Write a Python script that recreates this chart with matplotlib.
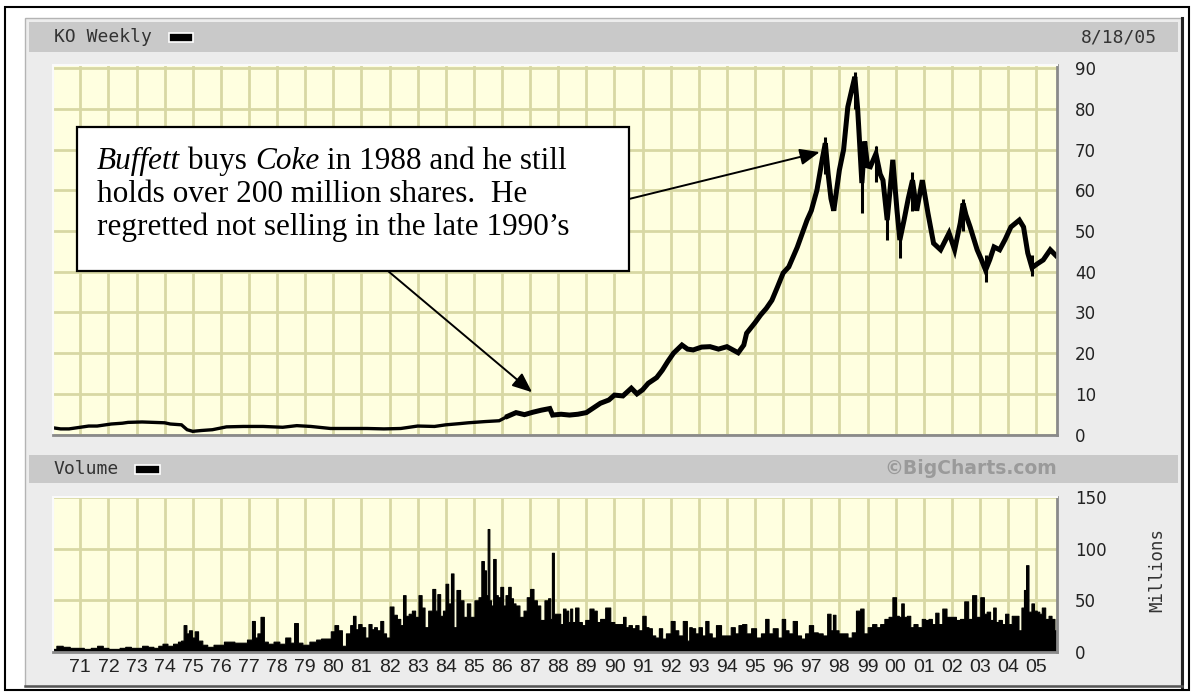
"""KO weekly price / volume chart (BigCharts style) with Buffett annotation"""
import matplotlib
matplotlib.use("Agg")
import matplotlib.pyplot as plt
import matplotlib.transforms as mtransforms
from matplotlib.patches import Rectangle
import numpy as np

W, H = 1193, 694

# --- data ----------------------------------------------------------------
price_years = [
    1970.05, 1970.3, 1970.6, 1970.9, 1971.3, 1971.6, 1972.1, 1972.5, 1972.7, 1973.2,
    1973.6, 1974.0, 1974.2, 1974.6, 1974.8, 1975.0, 1975.3, 1975.7, 1976.2, 1976.8,
    1977.5, 1978.2, 1978.7, 1979.2, 1979.9, 1980.5, 1981.2, 1981.8, 1982.4, 1983.0,
    1983.6, 1984.0, 1984.5, 1984.8, 1985.4, 1985.9, 1986.2, 1986.5, 1986.8, 1987.1,
    1987.4, 1987.7, 1987.8, 1988.1, 1988.4, 1988.7, 1989.0, 1989.5, 1989.8, 1990.0,
    1990.3, 1990.6, 1990.8, 1991.0, 1991.2, 1991.5, 1991.7, 1991.9, 1992.1, 1992.4,
    1992.6, 1992.8, 1993.1, 1993.4, 1993.7, 1994.0, 1994.4, 1994.6, 1994.7, 1995.0,
    1995.2, 1995.4, 1995.6, 1995.8, 1996.0, 1996.2, 1996.5, 1996.85, 1997.0, 1997.2,
    1997.4, 1997.5, 1997.6, 1997.7, 1997.8, 1997.9, 1998.0, 1998.15, 1998.3, 1998.45,
    1998.55, 1998.65, 1998.7, 1998.8, 1998.9, 1999.0, 1999.1, 1999.3, 1999.45, 1999.55,
    1999.7, 1999.8, 1999.9, 2000.05, 2000.15, 2000.3, 2000.45, 2000.6, 2000.75, 2000.95,
    2001.15, 2001.35, 2001.6, 2001.9, 2002.1, 2002.3, 2002.4, 2002.5, 2002.65, 2002.9,
    2003.05, 2003.2, 2003.35, 2003.5, 2003.7, 2003.9, 2004.1, 2004.4, 2004.55, 2004.7,
    2004.85, 2005.05, 2005.25, 2005.5, 2005.7,
]
price_close = [
    1.65, 1.4, 1.4, 1.7, 2.1, 2.1, 2.6, 2.8, 3.0, 3.1,
    3.0, 2.9, 2.6, 2.4, 1.2, 0.8, 1.0, 1.2, 1.9, 2.0,
    2.0, 1.8, 2.2, 2.0, 1.5, 1.5, 1.5, 1.4, 1.5, 2.1,
    2.0, 2.4, 2.7, 2.9, 3.2, 3.4, 4.5, 5.4, 4.9, 5.5,
    6.0, 6.4, 4.8, 5.0, 4.8, 5.0, 5.4, 7.7, 8.5, 9.7,
    9.5, 11.4, 10.0, 11.0, 12.6, 14.0, 15.8, 18.0, 20.0, 22.0,
    21.0, 20.8, 21.5, 21.6, 21.0, 21.6, 20.1, 22.0, 24.9, 27.5,
    29.4, 31.0, 33.0, 36.3, 39.7, 41.2, 46.0, 52.7, 55.0, 60.0,
    68.0, 71.6, 64.0, 58.0, 55.0, 60.0, 65.0, 70.0, 80.5, 85.0,
    87.9, 80.0, 74.0, 61.8, 72.0, 66.0, 65.8, 69.0, 64.0, 62.5,
    52.7, 60.0, 67.5, 55.0, 47.8, 52.7, 58.0, 62.5, 55.0, 62.5,
    54.4, 47.0, 45.4, 49.5, 45.4, 52.0, 56.8, 54.0, 51.0, 45.4,
    43.0, 40.4, 43.0, 46.1, 45.4, 48.0, 51.0, 52.7, 51.0, 44.6,
    41.0, 42.0, 42.9, 45.4, 44.0,
]
# a few weekly high/low bars that stick out of the band
wick_years = [1997.5, 1998.55, 1998.8, 1999.3, 1999.7, 2000.15, 2000.6, 2002.4, 2003.2, 2004.85]
wick_low = [64.0, 80.0, 54.4, 62.0, 47.8, 43.4, 55.0, 50.0, 37.5, 39.0]
wick_high = [73.0, 89.0, 66.0, 71.0, 58.0, 52.0, 64.5, 58.0, 44.0, 44.0]

vol_years = [
    1970.05, 1970.25, 1970.5, 1970.75, 1971.0, 1971.25, 1971.5, 1971.7, 1971.9, 1972.1,
    1972.3, 1972.5, 1972.7, 1972.9, 1973.1, 1973.3, 1973.5, 1973.7, 1973.85, 1974.0,
    1974.2, 1974.4, 1974.55, 1974.62, 1974.73, 1974.82, 1974.91, 1975.03, 1975.11, 1975.27,
    1975.41, 1975.62, 1975.86, 1976.0, 1976.22, 1976.39, 1976.57, 1976.81, 1977.05, 1977.16,
    1977.26, 1977.34, 1977.48, 1977.58, 1977.76, 1977.99, 1978.17, 1978.41, 1978.53, 1978.68,
    1978.8, 1979.0, 1979.3, 1979.48, 1979.65, 1979.83, 1979.99, 1980.09, 1980.25, 1980.36,
    1980.54, 1980.66, 1980.74, 1980.84, 1980.93, 1981.08, 1981.19, 1981.31, 1981.41, 1981.49,
    1981.61, 1981.73, 1981.82, 1981.93, 1982.08, 1982.2, 1982.32, 1982.44, 1982.52, 1982.62,
    1982.74, 1982.85, 1982.97, 1983.09, 1983.19, 1983.3, 1983.45, 1983.59, 1983.66, 1983.74,
    1983.86, 1983.94, 1984.04, 1984.13, 1984.24, 1984.31, 1984.45, 1984.57, 1984.69, 1984.81,
    1984.93, 1985.11, 1985.22, 1985.31, 1985.4, 1985.46, 1985.52, 1985.58, 1985.64, 1985.73,
    1985.82, 1985.88, 1986.0, 1986.08, 1986.17, 1986.27, 1986.35, 1986.43, 1986.53, 1986.71,
    1986.82, 1986.94, 1987.06, 1987.18, 1987.3, 1987.42, 1987.6, 1987.68, 1987.75, 1987.8,
    1987.89, 1988.01, 1988.13, 1988.21, 1988.31, 1988.4, 1988.45, 1988.54, 1988.66, 1988.78,
    1988.9, 1989.02, 1989.2, 1989.31, 1989.43, 1989.55, 1989.79, 1989.91, 1990.08, 1990.26,
    1990.35, 1990.44, 1990.56, 1990.68, 1990.8, 1990.91, 1991.07, 1991.15, 1991.27, 1991.39,
    1991.51, 1991.65, 1991.74, 1991.92, 1992.08, 1992.2, 1992.34, 1992.52, 1992.63, 1992.69,
    1992.81, 1992.93, 1993.05, 1993.17, 1993.29, 1993.4, 1993.52, 1993.7, 1993.88, 1994.06,
    1994.21, 1994.35, 1994.47, 1994.61, 1994.77, 1994.95, 1995.12, 1995.3, 1995.42, 1995.54,
    1995.72, 1995.89, 1996.01, 1996.13, 1996.25, 1996.43, 1996.55, 1996.72, 1996.84, 1996.99,
    1997.14, 1997.32, 1997.49, 1997.64, 1997.73, 1997.81, 1997.91, 1998.03, 1998.2, 1998.38,
    1998.5, 1998.68, 1998.8, 1998.92, 1999.09, 1999.24, 1999.39, 1999.51, 1999.69, 1999.81,
    1999.96, 2000.07, 2000.16, 2000.24, 2000.34, 2000.46, 2000.58, 2000.69, 2000.87, 2000.99,
    2001.11, 2001.23, 2001.35, 2001.47, 2001.58, 2001.74, 2001.88, 2002.06, 2002.23, 2002.35,
    2002.53, 2002.63, 2002.81, 2002.92, 2003.1, 2003.18, 2003.3, 2003.42, 2003.52, 2003.6,
    2003.72, 2003.84, 2003.95, 2004.07, 2004.19, 2004.31, 2004.43, 2004.52, 2004.61, 2004.67,
    2004.78, 2004.88, 2004.96, 2005.08, 2005.14, 2005.26, 2005.38, 2005.5, 2005.59, 2005.71,
]
vol_millions = [
    3, 6, 5, 4, 4, 3, 4, 6, 4, 3,
    3, 4, 5, 4, 4, 6, 5, 4, 6, 8,
    6, 8, 10, 11, 26, 18, 21, 14, 20, 11,
    7, 5, 7, 7, 10, 10, 9, 9, 12, 30,
    14, 18, 34, 10, 8, 10, 8, 14, 9, 28,
    9, 7, 10, 12, 13, 13, 20, 26, 21, 6,
    18, 26, 35, 22, 27, 24, 14, 27, 22, 24,
    21, 30, 18, 14, 44, 36, 32, 26, 55, 35,
    37, 40, 34, 55, 43, 24, 40, 61, 40, 56,
    35, 40, 66, 47, 76, 24, 60, 50, 34, 47,
    34, 50, 53, 88, 79, 55, 119, 50, 45, 90,
    55, 53, 63, 45, 55, 63, 52, 47, 45, 34,
    40, 53, 61, 50, 45, 31, 50, 52, 32, 96,
    37, 37, 27, 42, 40, 29, 42, 29, 43, 29,
    26, 31, 42, 40, 29, 32, 43, 29, 27, 27,
    34, 24, 26, 23, 26, 21, 35, 24, 23, 16,
    14, 23, 13, 18, 30, 21, 16, 30, 11, 24,
    23, 18, 24, 16, 30, 18, 14, 26, 16, 16,
    24, 18, 26, 27, 18, 23, 14, 18, 32, 18,
    23, 14, 32, 21, 18, 30, 16, 13, 18, 26,
    19, 18, 16, 37, 21, 36, 21, 18, 18, 14,
    19, 40, 42, 18, 24, 27, 24, 27, 32, 34,
    53, 35, 34, 47, 34, 35, 24, 27, 24, 32,
    31, 32, 27, 38, 27, 42, 34, 34, 31, 32,
    49, 32, 55, 34, 53, 37, 39, 31, 43, 29,
    31, 27, 37, 27, 35, 35, 21, 43, 60, 84,
    39, 47, 40, 39, 37, 43, 32, 35, 32, 21,
]

year_ticks = list(range(1971, 2006))
year_labels = [f"{y % 100:02d}" for y in year_ticks]
price_ticks = list(range(0, 100, 10))
vol_ticks = [0, 50, 100, 150]

# --- style -----------------------------------------------------------------
PLOT_BG = "#ffffe0"
GRID = "#d8d8a4"
PANEL = "#ececec"
BAR = "#c9c9c9"
MONO = "DejaVu Sans Mono"

fig = plt.figure(figsize=(W / 100, H / 100), dpi=100)
fig.patch.set_facecolor("white")

# pixel coords (origin top-left) -> figure
px = mtransforms.Affine2D().scale(1 / W, -1 / H).translate(0, 1) + fig.transFigure


def rect_px(x0, y0, x1, y1, **kw):
    r = Rectangle((x0, y1), x1 - x0, y0 - y1, transform=px, **kw)
    fig.add_artist(r)
    return r


def ax_px(x0, y0, x1, y1):
    return fig.add_axes([x0 / W, 1 - y1 / H, (x1 - x0) / W, (y1 - y0) / H])


# frame, panel, header bars
rect_px(5, 7, 1189, 690, facecolor="none", edgecolor="black", lw=1.5, zorder=-6)
rect_px(25, 18, 1181, 686, facecolor=PANEL, edgecolor="#b4b4b4", lw=1, zorder=-5)
fig.add_artist(plt.Line2D([1181.5, 1181.5], [18, 687], transform=px, color="#222222", lw=2.2, zorder=-4))
fig.add_artist(plt.Line2D([25, 1182], [686.5, 686.5], transform=px, color="#555555", lw=1.8, zorder=-4))
rect_px(29, 22, 1178, 52, facecolor=BAR, edgecolor="none", zorder=-4)
rect_px(29, 455, 1178, 483, facecolor=BAR, edgecolor="none", zorder=-4)

fig.text(54, 37, "KO Weekly", transform=px, family=MONO, fontsize=13, color="#333333", va="center")
rect_px(169, 33, 193, 42, facecolor="black", edgecolor="white", lw=1.2, zorder=-3)
fig.text(1157, 37, "8/18/05", transform=px, family=MONO, fontsize=13, color="#333333",
         va="center", ha="right")
fig.text(54, 469, "Volume", transform=px, family=MONO, fontsize=13, color="#333333", va="center")
rect_px(135, 465, 160, 474, facecolor="black", edgecolor="white", lw=1.2, zorder=-3)
fig.text(1057, 469, "©BigCharts.com", transform=px, family="DejaVu Sans", fontsize=13.5,
         fontweight="bold", color="#9a9a9a", va="center", ha="right")
fig.text(1157, 570, "Millions", transform=px, family=MONO, fontsize=12.5, color="#333333",
         va="center", ha="center", rotation=90)


def style_axes(ax):
    ax.set_facecolor(PLOT_BG)
    ax.set_axisbelow(True)
    ax.grid(True, color=GRID, lw=2)
    ax.set_xlim(1970.03, 2005.74)
    ax.set_xticks(year_ticks)
    ax.yaxis.tick_right()
    ax.tick_params(length=0, labelsize=12, colors="#222222", pad=13)
    for s in ("top", "left"):
        ax.spines[s].set_color("#fafafa")
        ax.spines[s].set_linewidth(1.5)
    for s in ("bottom", "right"):
        ax.spines[s].set_color("#8a8a8a")
        ax.spines[s].set_linewidth(2)


# price panel
ax = ax_px(53, 65, 1057, 435)
style_axes(ax)
ax.set_ylim(-0.1, 90.8)
ax.set_yticks(price_ticks)
ax.set_xticklabels([])
yrs = np.array(price_years)
cls = np.array(price_close)
early = yrs <= 1986.2
ax.plot(yrs[early], cls[early], color="black", lw=2.4, solid_joinstyle="miter")
ax.plot(yrs[~early | (yrs == 1986.2)], cls[~early | (yrs == 1986.2)], color="black", lw=3.6,
        solid_joinstyle="miter")
ax.vlines(wick_years, wick_low, wick_high, color="black", lw=2.2)

# volume panel
axv = ax_px(53, 497, 1057, 652)
style_axes(axv)
axv.set_ylim(0, 150)
axv.set_yticks(vol_ticks)
axv.fill_between(vol_years, vol_millions, 0, step="mid", color="black", lw=0.8, edgecolor="black")
axv.set_xticklabels(year_labels, family="Liberation Sans", fontsize=14)
axv.tick_params(axis="x", pad=5)

# annotation box
rect_px(77, 127, 629, 271, facecolor="white", edgecolor="black", lw=1.6, zorder=5)
renderer = fig.canvas.get_renderer()
serif = "Liberation Serif"
lines = [
    [("Buffett", "italic"), (" buys ", "normal"), ("Coke", "italic"), (" in 1988 and he still", "normal")],
    [("holds over 200 million shares.  He", "normal")],
    [("regretted not selling in the late 1990\u2019s", "normal")],
]
baselines = [169, 202, 235]
for parts, yb in zip(lines, baselines):
    x = 97
    for s, style in parts:
        t = fig.text(x, yb, s, transform=px, family=serif, style=style, fontsize=22.5,
                     va="baseline", ha="left", zorder=6)
        x += t.get_window_extent(renderer).width

arrow = dict(arrowstyle="-|>,head_length=0.6,head_width=0.25", color="black", lw=1.4,
             mutation_scale=20, shrinkA=0, shrinkB=0)
ax.annotate("", xy=(1997.3, 69.4), xycoords="data", xytext=(629, 199), textcoords=px,
            arrowprops=arrow, annotation_clip=False)
ax.annotate("", xy=(1987.07, 10.4), xycoords="data", xytext=(388, 271), textcoords=px,
            arrowprops=arrow, annotation_clip=False)

fig.savefig("out.png", dpi=100, facecolor="white")
